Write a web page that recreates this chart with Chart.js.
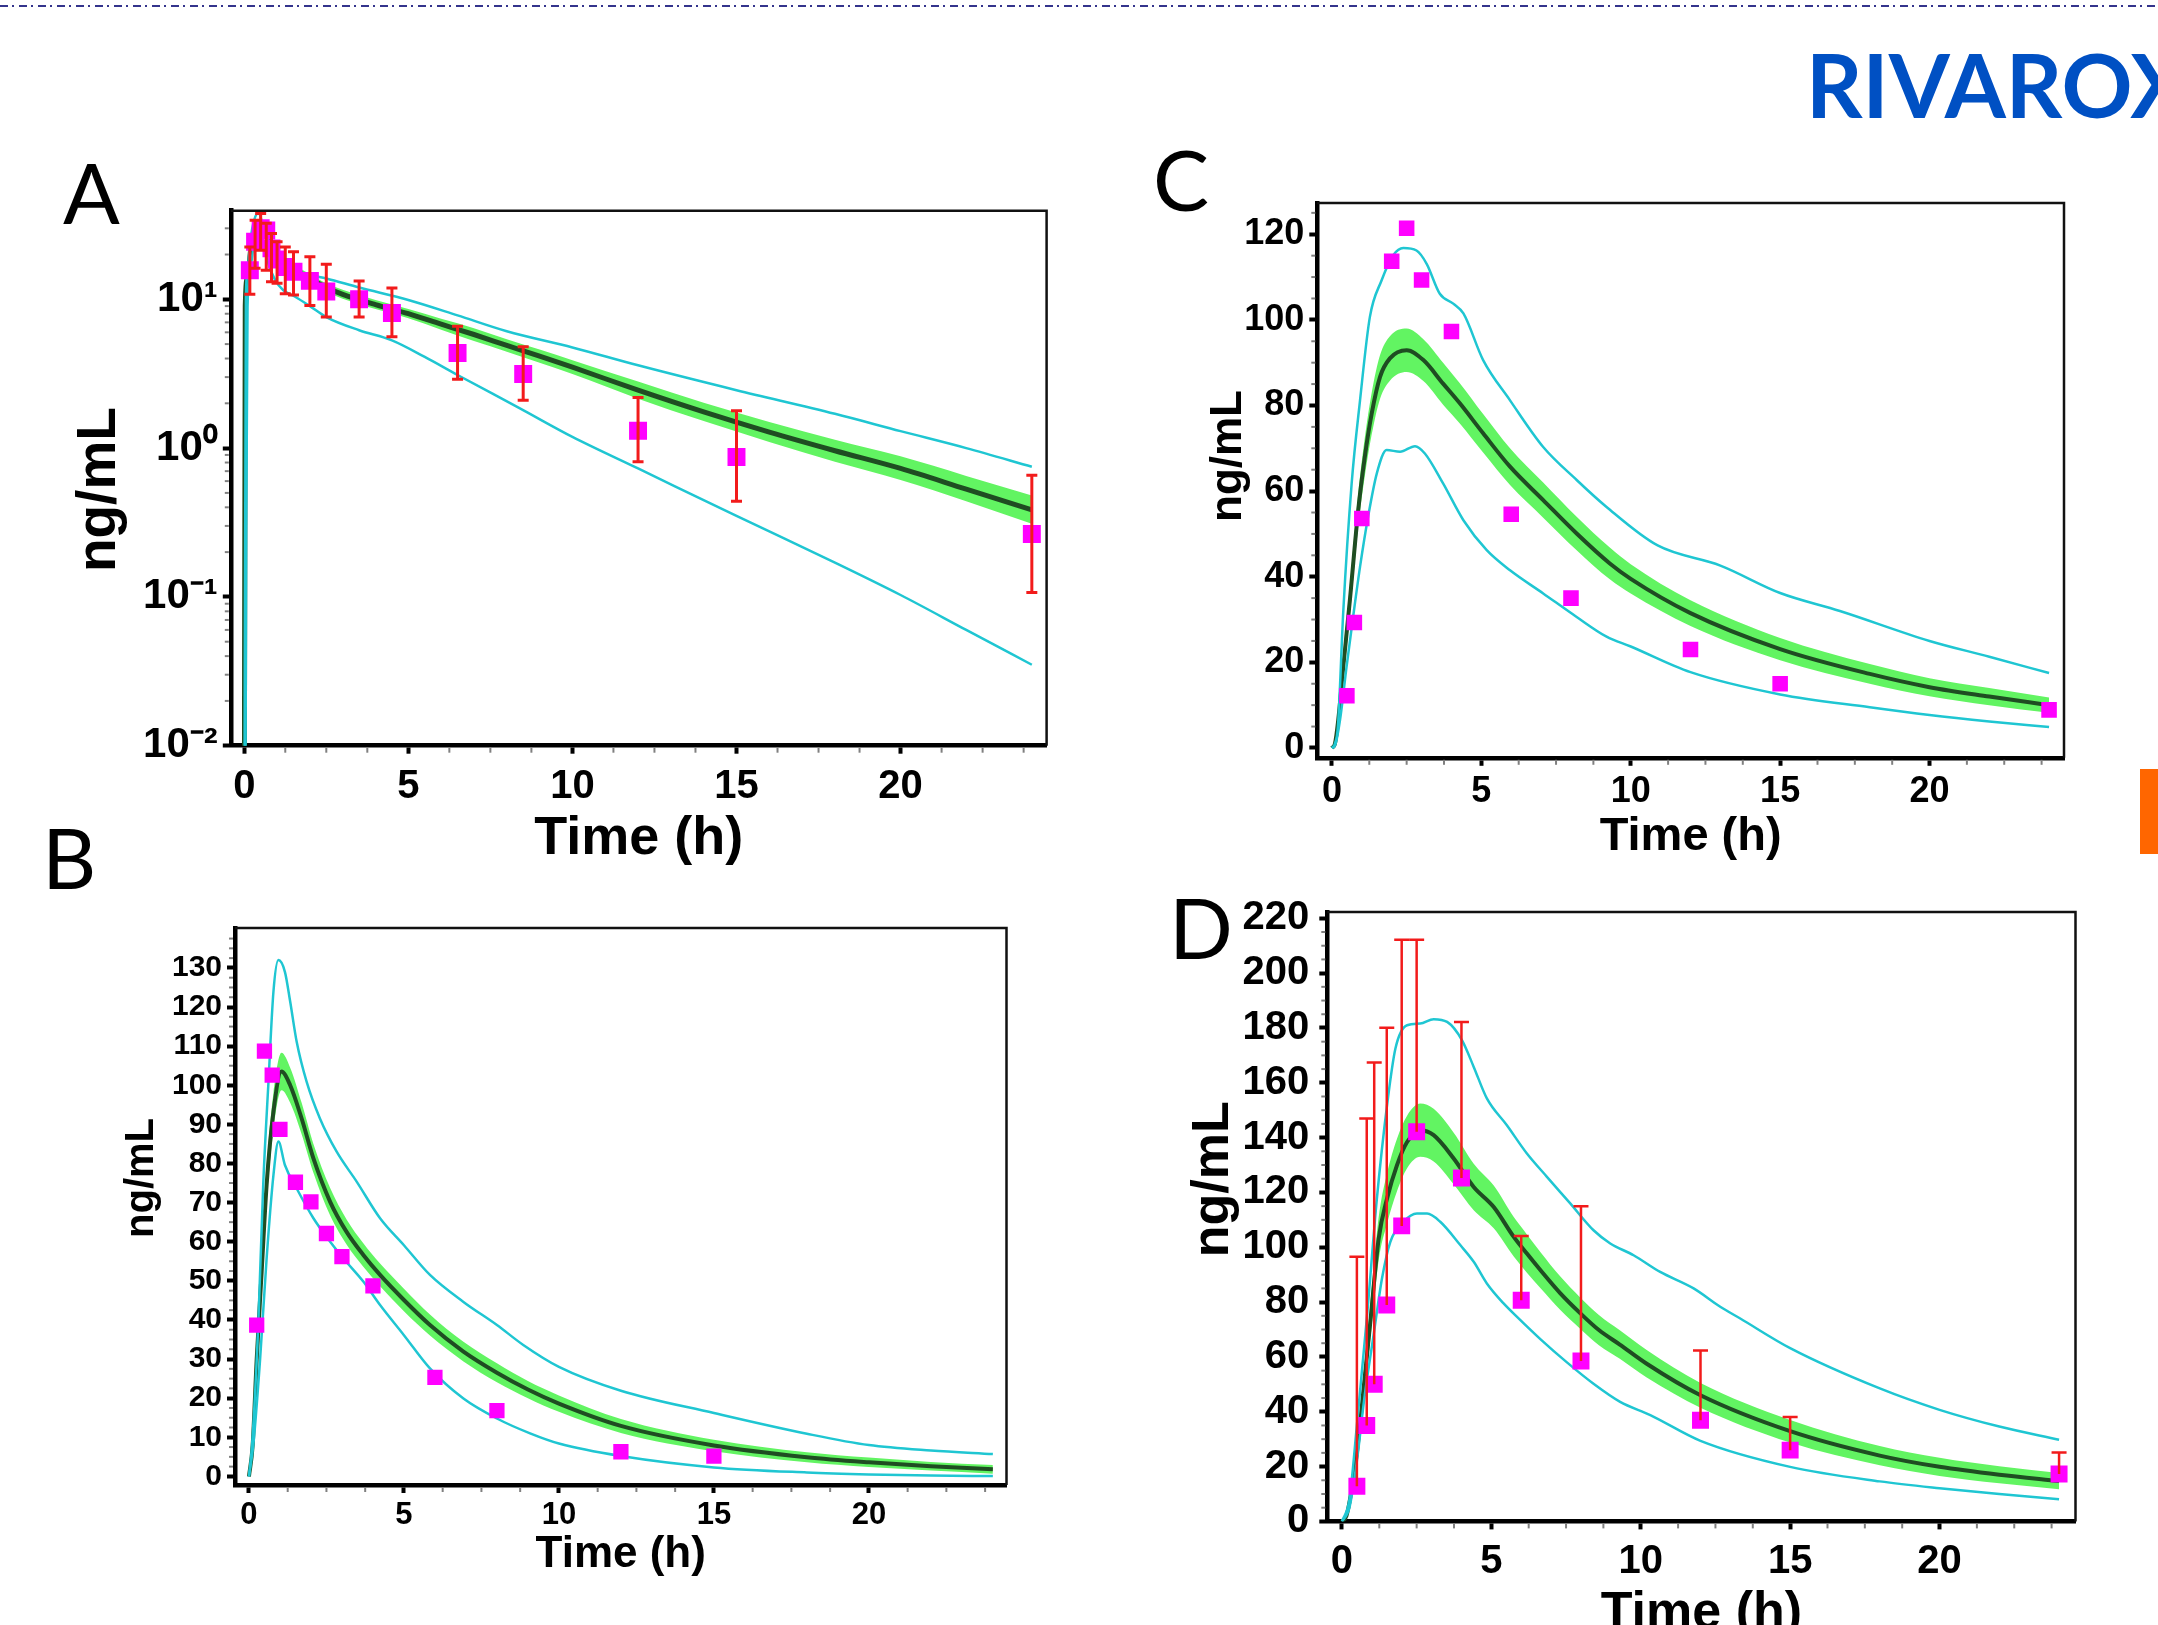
<!DOCTYPE html>
<html>
<head>
<meta charset="utf-8">
<title>Rivaroxaban concentration-time profiles</title>
<script src="https://cdn.jsdelivr.net/npm/chart.js@4.4.1/dist/chart.umd.min.js"></script>
<style>
  html, body { margin: 0; padding: 0; background: #fff; }
  body { position: relative; width: 2158px; height: 1625px; overflow: hidden; }
  #topline { position: absolute; left: 0; top: 5px; width: 2158px; height: 2px;
    background: repeating-linear-gradient(to right, #34348c 0 8px, transparent 8px 12px, #34348c 12px 14px, transparent 14px 19px); }
  #title { position: absolute; left: 1806px; top: 40px; font-family: Lato, 'Open Sans', sans-serif; font-weight: bold;
    font-size: 88px; line-height: 1; color: #0050c3; white-space: nowrap; }
  #orange { position: absolute; left: 2140px; top: 769px; width: 18px; height: 85px; background: #ff6600; }
  .letter { position: absolute; font-family: Lato, 'Open Sans', sans-serif; font-size: 84px; line-height: 1; color: #000; }
  canvas { position: absolute; }
</style>
</head>
<body>
<div id="topline"></div>
<div id="title">RIVAROXABAN</div>
<div id="orange"></div>
<div class="letter" style="left:63px; top:150px">A</div>
<div class="letter" style="left:42px; top:815px">B</div>
<div class="letter" style="left:1153px; top:137px">C</div>
<div class="letter" style="left:1169px; top:885px">D</div>
<canvas id="chartA" width="1010" height="702" style="left:60px; top:170px"></canvas>
<canvas id="chartB" width="920" height="693" style="left:100px; top:888px"></canvas>
<canvas id="chartC" width="900" height="702" style="left:1180px; top:163px"></canvas>
<canvas id="chartD" width="920" height="773" style="left:1170px; top:872px"></canvas>
<script>
const FONT = "'Liberation Sans', Arial, sans-serif";
const MAGENTA = '#ff00ff';
const CYAN = '#1fc6d2';
const DARK = '#1f4d22';
const GREEN = '#62f462';
const RED = '#f21b1b';

// axis ticks
const xMajorTicks = [0, 5, 10, 15, 20];
const xMinorTicks = [1.25, 2.5, 3.75, 6.25, 7.5, 8.75, 11.25, 12.5, 13.75, 16.25, 17.5, 18.75, 21.25, 22.5, 23.75];
const yTicksA = [0.01, 0.1, 1, 10];
const yTickLabelsA = ['10\u207B\u00B2', '10\u207B\u00B9', '10\u2070', '10\u00B9'];
const yMinorA = [0.02, 0.03, 0.04, 0.05, 0.06, 0.07, 0.08, 0.09, 0.2, 0.3, 0.4, 0.5, 0.6, 0.7, 0.8, 0.9,
  2, 3, 4, 5, 6, 7, 8, 9, 20, 30];
const yTicksB = [0, 10, 20, 30, 40, 50, 60, 70, 80, 90, 100, 110, 120, 130];
const yTicksC = [0, 20, 40, 60, 80, 100, 120];
const yTicksD = [0, 20, 40, 60, 80, 100, 120, 140, 160, 180, 200, 220];

// ---- Panel A (log scale) ----
const obsTimeA = [0.17, 0.33, 0.5, 0.67, 0.83, 1, 1.25, 1.5, 2, 2.5, 3.5, 4.5, 6.5, 8.5, 12, 15, 24];
const obsConcA = [15.7, 24.4, 30, 29, 22, 18.5, 16.5, 15.3, 13.3, 11.3, 10.0, 8.1, 4.35, 3.15, 1.31, 0.87, 0.265];
const errLowA = [10.8, 16.2, 21.4, 15.7, 13.1, 12.8, 10.9, 10.7, 9.1, 7.6, 7.6, 5.6, 2.9, 2.1, 0.81, 0.44, 0.107];
const errHighA = [22.5, 34, 37.8, 32.5, 27.7, 24.4, 22.5, 20.9, 19.3, 17.2, 13.3, 11.9, 6.6, 4.8, 2.19, 1.78, 0.656];
const simTimeA = [0, 0.03, 0.1, 0.2, 0.3, 0.4, 0.5, 0.6, 0.75, 1, 1.25, 1.5, 2, 2.5, 3, 4, 5, 6, 7, 8, 9, 10, 12, 14, 16, 18, 20, 22, 24];
const medianA = [0.001, 9, 14, 22, 28, 31, 32, 30, 25.5, 20, 17.5, 16, 13.8, 12.0, 10.8, 9.2, 8.0, 6.8, 5.8, 4.9, 4.15, 3.5, 2.45, 1.75, 1.28, 0.96, 0.73, 0.53, 0.385];
const bandHighA = [0.001, 9.6, 15, 23.5, 30, 33, 34, 32, 27.3, 21.4, 18.7, 17.1, 14.8, 12.8, 11.6, 9.9, 8.6, 7.4, 6.4, 5.4, 4.6, 3.9, 2.8, 2.02, 1.5, 1.14, 0.88, 0.65, 0.48];
const bandLowA = [0.001, 8.4, 13, 20.5, 26, 29, 30, 28, 23.8, 18.7, 16.3, 15, 12.9, 11.2, 10.1, 8.6, 7.45, 6.25, 5.25, 4.45, 3.75, 3.15, 2.15, 1.52, 1.1, 0.81, 0.61, 0.44, 0.31];
const p95TimeA = [0, 0.05, 0.1, 0.2, 0.3, 0.43, 0.6, 0.84, 1.1, 1.45, 2, 2.5, 3.5, 5, 6.5, 8, 10, 12, 15, 18, 20, 22, 24];
const p95A = [0.001, 10, 16, 26, 34, 38, 30, 21.4, 18.5, 16.1, 14.6, 13.8, 12.0, 9.9, 7.8, 6.1, 4.75, 3.6, 2.45, 1.7, 1.3, 1.0, 0.75];
const p5TimeA = [0.03, 0.06, 0.1, 0.2, 0.3, 0.45, 0.6, 0.75, 0.94, 1.19, 1.55, 2, 2.5, 3.5, 4.5, 5.5, 6.5, 8.4, 10, 12, 15, 18, 20, 22, 24];
const p5A = [0.001, 0.28, 8.9, 17, 24, 27, 22, 17, 13.5, 11.5, 10.4, 9.0, 7.6, 6.2, 5.3, 4.1, 3.1, 1.85, 1.19, 0.73, 0.35, 0.17, 0.103, 0.06, 0.035];

// ---- Panel B ----
const obsTimeB = [0.25, 0.5, 0.75, 1, 1.5, 2, 2.5, 3, 4, 6, 8, 12, 15];
const obsConcB = [38.7, 108.7, 102.6, 88.7, 75.2, 70.2, 62.1, 56.2, 48.7, 25.3, 16.8, 6.3, 5.2];
const simTimeB = [0, 0.12, 0.25, 0.41, 0.57, 0.79, 1.05, 1.33, 1.7, 2.08, 2.62, 3.15, 3.69, 4.23, 5, 5.84, 6.92, 8, 9, 10, 12, 15, 18, 20, 22, 24];
const medianB = [0, 8, 30, 52.3, 74.5, 93.2, 103.5, 100, 91.5, 81.3, 70.2, 62.5, 56.6, 51.5, 45.1, 38.7, 31.9, 26.5, 22.2, 18.6, 12.9, 7.9, 4.9, 3.6, 2.6, 1.8];
const bandHighB = [0, 9.5, 33, 56, 79, 98, 108.3, 104.5, 95.5, 85, 73.7, 65.7, 59.6, 54.4, 48, 41.4, 34.4, 28.9, 24.4, 20.7, 14.7, 9.4, 6.2, 4.8, 3.7, 2.9];
const bandLowB = [0, 6.5, 27, 48.5, 70, 88.5, 98.7, 95.5, 87.5, 77.6, 66.7, 59.3, 53.6, 48.6, 42.2, 36, 29.4, 24.1, 20, 16.5, 11.1, 6.4, 3.6, 2.4, 1.5, 0.7];
const p95TimeB = [0, 0.1, 0.3, 0.46, 0.63, 0.79, 0.95, 1.16, 1.33, 1.54, 1.86, 2.29, 2.83, 3.48, 4.23, 5, 5.84, 6.92, 8, 8.85, 10, 12, 15, 18, 20, 22, 24];
const p95B = [0, 8, 38.7, 74.5, 100.9, 123.9, 132, 129, 121.4, 111.1, 100.9, 91.5, 83, 75.3, 66, 59.1, 51.5, 44.6, 38.7, 33.6, 28, 21.9, 16.2, 10.9, 8, 6.6, 5.7];
const p5TimeB = [0, 0.14, 0.36, 0.57, 0.79, 0.95, 1.16, 1.54, 2.08, 2.62, 3.05, 3.69, 4.23, 5, 5.84, 6.92, 8, 9.07, 10, 12, 15, 18, 20, 22, 24];
const p5B = [0, 8, 30, 55.7, 77, 85.6, 79.6, 73.6, 66, 60, 55.7, 49.8, 43.8, 36.1, 27.6, 19.9, 14.8, 11, 8.4, 5.2, 2.3, 1.0, 0.5, 0.2, 0.1];

// ---- Panel C ----
const obsTimeC = [0.5, 0.75, 1, 2, 2.5, 3, 4, 6, 8, 12, 15, 24];
const obsConcC = [12.2, 29.3, 53.6, 113.7, 121.4, 109.3, 97.3, 54.6, 35, 23, 15, 8.9];
const simTimeC = [0, 0.1, 0.21, 0.38, 0.6, 0.88, 1.1, 1.33, 1.61, 1.94, 2.5, 3.06, 3.72, 4.28, 5.06, 5.96, 7.07, 8.19, 9.3, 10, 12, 15, 18, 20, 22, 24];
const medianC = [0, 1, 6.5, 19, 34.5, 55.6, 68, 78.1, 86.7, 91, 92.9, 90.6, 85.1, 80.5, 73.5, 65.7, 57.9, 50.1, 43.1, 39.5, 31.5, 23.1, 17.3, 14.2, 12, 10];
const bandHighC = [0, 1.5, 8, 22, 38, 59.5, 72.5, 83, 91.8, 96.2, 98, 95.5, 90, 85.2, 78, 70, 62, 54, 46.8, 42.9, 34.5, 25.7, 19.6, 16.3, 14, 11.8];
const bandLowC = [0, 0.5, 5, 16, 31, 51.7, 63.5, 73.2, 81.6, 85.8, 87.8, 85.7, 80.2, 75.8, 69, 61.4, 53.8, 46.2, 39.4, 36.1, 28.5, 20.5, 15, 12.1, 10, 8.2];
const p95TimeC = [0, 0.1, 0.2, 0.38, 0.66, 0.94, 1.27, 1.66, 2.05, 2.39, 2.83, 3.17, 3.61, 4.06, 4.4, 5.06, 5.96, 7.07, 8.19, 9.19, 10.9, 13, 15, 17, 20, 22, 24];
const p95C = [0, 1, 5, 32, 61.8, 81.2, 100.7, 109.2, 115.1, 116.8, 116.2, 113.1, 106.1, 103.8, 101.5, 90.6, 81.2, 70.3, 62.6, 56.3, 47.3, 42.6, 36.2, 32, 25, 21.3, 17.5];
const p5TimeC = [0, 0.1, 0.27, 0.49, 0.71, 0.94, 1.21, 1.5, 1.83, 2.28, 2.78, 3.11, 3.72, 4.4, 5.18, 5.96, 7.07, 8.19, 9.19, 10, 12, 15, 18, 20, 22, 24];
const p5C = [0, 0.5, 6.5, 19, 30.7, 42.3, 54, 64.1, 69.6, 69.2, 70.5, 68.8, 61.8, 53.2, 46.2, 41.5, 36.1, 30.6, 26, 23.7, 17.7, 12.5, 9.5, 7.7, 6.2, 4.9];

// ---- Panel D ----
const obsTimeD = [0.5, 0.83, 1.08, 1.5, 2, 2.5, 4, 6, 8, 12, 15, 24];
const obsConcD = [12.8, 35, 50, 78.9, 107.8, 142.1, 125.3, 80.7, 58.5, 36.9, 26, 17.3];
const errHighD = [96.5, 147, 167.4, 180.1, 212.2, 212.2, 182.2, 104.1, 115, 62.3, 38.1, 25.1];
const simTimeD = [0, 0.15, 0.3, 0.5, 0.67, 0.95, 1.23, 1.51, 1.84, 2.18, 2.62, 3.07, 3.74, 4.41, 5.08, 5.75, 6.19, 6.64, 7.31, 7.98, 8.6, 9.3, 10.2, 12, 15, 18, 20, 22, 24];
const medianD = [0, 2, 10, 25, 42.4, 72.8, 103.2, 117.8, 129.9, 138.4, 142.7, 140.9, 132.4, 122, 114.7, 103.8, 97.7, 91.7, 83.2, 75.9, 69.8, 64.5, 57.5, 46, 32.9, 24, 19.9, 17, 14.7];
const bandHighD = [0, 3, 13, 30, 48, 79, 111, 127, 139.5, 148, 152.4, 150.5, 141.8, 130.5, 122.5, 111, 104.7, 98.3, 89.3, 81.6, 75.3, 69.7, 62.5, 50.5, 37, 27.5, 23.2, 20.1, 17.7];
const bandLowD = [0, 1, 7, 20, 37, 66.5, 95.4, 108.6, 120.3, 128.8, 133, 131.3, 123, 113.5, 106.9, 96.6, 90.7, 85.1, 77.1, 70.2, 64.3, 59.3, 52.5, 41.5, 28.8, 20.5, 16.6, 13.9, 11.7];
const p95TimeD = [0, 0.25, 0.5, 0.84, 1.17, 1.51, 1.79, 2.18, 2.62, 3.07, 3.52, 4.02, 4.41, 4.85, 5.52, 6.19, 6.86, 7.64, 8.42, 8.98, 9.76, 10.65, 11.77, 12.66, 13.33, 15, 18, 20, 22, 24];
const p95D = [0, 8, 35, 75, 117.8, 151.8, 172.5, 181, 181.6, 183.2, 182.2, 175.5, 165.8, 154.3, 144.5, 134.2, 125.7, 116, 106.2, 101.4, 97.1, 91, 85, 78.3, 74, 63.2, 48.5, 40.7, 34.6, 29.8];
const p5TimeD = [0, 0.25, 0.5, 0.75, 1.06, 1.34, 1.62, 2.06, 2.51, 2.85, 3.29, 3.96, 4.41, 4.85, 5.41, 5.86, 6.64, 7.53, 8.42, 9.31, 10.32, 12, 15, 18, 20, 22, 24];
const p5D = [0, 5, 22, 45, 68, 88.6, 102, 109.3, 112.3, 112.3, 109.3, 100.8, 94.7, 86.8, 79.5, 74.6, 66.5, 58, 50.2, 43.6, 38.8, 29.4, 19.9, 14.6, 12.1, 10, 8.1];

// frame, minor ticks, y title and error bars
const panelDecor = {
  id: 'panelDecor',
  afterDatasetsDraw(chart, args, o) {
    const e = o.errors;
    if (!e) return;
    const { ctx, chartArea: a, scales: { x, y } } = chart;
    ctx.save();
    ctx.beginPath();
    ctx.rect(a.left, a.top, a.right - a.left, a.bottom - a.top);
    ctx.clip();
    ctx.strokeStyle = RED;
    ctx.lineWidth = e.lineWidth;
    e.t.forEach((t, i) => {
      const px = x.getPixelForValue(t);
      const top = y.getPixelForValue(e.hi[i]);
      const bot = y.getPixelForValue(e.lo[i]);
      ctx.beginPath();
      ctx.moveTo(px, bot);
      ctx.lineTo(px, top);
      ctx.moveTo(px - e.cap / 2, top);
      ctx.lineTo(px + e.cap / 2, top);
      if (e.capLow) {
        ctx.moveTo(px - e.cap / 2, bot);
        ctx.lineTo(px + e.cap / 2, bot);
      }
      ctx.stroke();
    });
    ctx.restore();
  },
  afterDraw(chart, args, o) {
    const { ctx, chartArea: a, scales: { x, y } } = chart;
    ctx.save();
    // top and right side of the frame
    ctx.strokeStyle = '#111';
    ctx.lineWidth = 2.5;
    ctx.beginPath();
    ctx.moveTo(a.left, a.top);
    ctx.lineTo(a.right, a.top);
    ctx.lineTo(a.right, a.bottom);
    ctx.stroke();
    // minor ticks
    ctx.strokeStyle = '#808080';
    ctx.lineWidth = 2;
    (o.minorX || []).forEach(v => {
      const px = x.getPixelForValue(v);
      ctx.beginPath();
      ctx.moveTo(px, a.bottom + 2);
      ctx.lineTo(px, a.bottom + 7);
      ctx.stroke();
    });
    let minorY = o.minorY || [];
    if (o.minorYStep) {
      minorY = [];
      for (let v = o.minorYStep; v < y.max; v += o.minorYStep) {
        if (Math.abs(v / o.yMajorStep - Math.round(v / o.yMajorStep)) > 1e-6) minorY.push(v);
      }
    }
    minorY.forEach(v => {
      const py = y.getPixelForValue(v);
      if (py < a.top || py > a.bottom) return;
      ctx.beginPath();
      ctx.moveTo(a.left - 2, py);
      ctx.lineTo(a.left - 6, py);
      ctx.stroke();
    });
    // rotated y-axis title
    const t = o.yTitle;
    ctx.translate(a.left + t.dx, (a.top + a.bottom) / 2 + t.dy);
    ctx.rotate(-Math.PI / 2);
    ctx.fillStyle = '#000';
    ctx.font = 'bold ' + t.size + 'px ' + FONT;
    ctx.textAlign = 'center';
    ctx.textBaseline = 'middle';
    ctx.fillText(t.text, 0, 0);
    ctx.restore();
  }
};
Chart.register(panelDecor);

function buildPanel(id, p) {
  const pts = (t, v) => t.map((x, i) => ({ x: x, y: v[i] }));
  const curve = { pointRadius: 0, pointHoverRadius: 0, fill: false, cubicInterpolationMode: 'monotone' };
  const tickFont = size => ({ family: FONT, size: size, weight: 'bold' });
  const grid = { drawOnChartArea: false, tickLength: 8, tickWidth: 4, tickColor: '#000' };
  const border = { color: '#000', width: 4.5 };
  return new Chart(document.getElementById(id), {
    type: 'line',
    data: {
      datasets: [
        { label: 'Observed', data: pts(p.obsT, p.obsV), showLine: false, pointStyle: 'rect',
          pointRadius: p.pointR, pointHoverRadius: p.pointR, backgroundColor: MAGENTA,
          borderColor: MAGENTA, borderWidth: 0, order: 0 },
        Object.assign({ label: '95th percentile', data: pts(p.p95T, p.p95V), borderColor: CYAN, borderWidth: 2.5, order: 1 }, curve),
        Object.assign({ label: '5th percentile', data: pts(p.p5T, p.p5V), borderColor: CYAN, borderWidth: 2.5, order: 1 }, curve),
        Object.assign({ label: 'Median', data: pts(p.simT, p.med), borderColor: DARK, borderWidth: p.medW, order: 2 }, curve),
        Object.assign({}, curve, { label: 'Median CI upper', data: pts(p.simT, p.bandHi), borderColor: 'rgba(0,0,0,0)',
          borderWidth: 0, backgroundColor: GREEN, fill: '+1', order: 3 }),
        Object.assign({ label: 'Median CI lower', data: pts(p.simT, p.bandLo), borderColor: 'rgba(0,0,0,0)', borderWidth: 0, order: 3 }, curve)
      ]
    },
    options: {
      responsive: false,
      animation: false,
      devicePixelRatio: 1,
      events: [],
      layout: { padding: { top: p.padTop, right: p.padRight, left: 0, bottom: 0 } },
      plugins: {
        legend: { display: false },
        tooltip: { enabled: false },
        panelDecor: { errors: p.errors, minorX: xMinorTicks, minorY: p.minorY, minorYStep: p.minorYStep,
          yMajorStep: p.yMajorStep, yTitle: p.yTitle }
      },
      scales: {
        x: {
          type: 'linear', min: p.xMin, max: p.xMax,
          afterBuildTicks: s => { s.ticks = xMajorTicks.map(v => ({ value: v })); },
          afterFit: s => { s.height = p.xH; },
          ticks: { autoSkip: false, maxRotation: 0, padding: p.xTickPad, color: '#000',
            font: tickFont(p.xTickSize), callback: v => String(v) },
          grid: grid,
          border: border,
          title: { display: true, text: 'Time (h)', color: '#000', padding: 0, font: tickFont(p.xTitleSize) }
        },
        y: {
          type: p.yType, min: p.yMin, max: p.yMax,
          afterBuildTicks: s => { s.ticks = p.yTicks.map(v => ({ value: v })); },
          afterFit: s => { s.width = p.yW; },
          ticks: { autoSkip: false, padding: p.yTickPad, color: '#000', font: tickFont(p.yTickSize),
            callback: (v, i) => (p.yLabels ? p.yLabels[i] : String(v)) },
          grid: grid,
          border: border
        }
      }
    }
  });
}

buildPanel('chartA', {
  yType: 'logarithmic', xMin: -0.41, xMax: 24.45, yMin: 0.01, yMax: 39.4,
  yTicks: yTicksA, yLabels: yTickLabelsA, minorY: yMinorA,
  yW: 170.8, xH: 126.3, padTop: 40.7, padRight: 23.4,
  xTickSize: 40, yTickSize: 42, xTitleSize: 54, xTickPad: 9, yTickPad: 5,
  pointR: 12.7, medW: 5,
  obsT: obsTimeA, obsV: obsConcA, simT: simTimeA, med: medianA, bandHi: bandHighA, bandLo: bandLowA,
  p95T: p95TimeA, p95V: p95A, p5T: p5TimeA, p5V: p5A,
  errors: { t: obsTimeA, lo: errLowA, hi: errHighA, capLow: true, cap: 11, lineWidth: 3 },
  yTitle: { text: 'ng/mL', size: 55, dx: -130.6, dy: 11.4 }
});

buildPanel('chartB', {
  yType: 'linear', xMin: -0.45, xMax: 24.44, yMin: -2.2, yMax: 140.2,
  yTicks: yTicksB, minorYStep: 2.5, yMajorStep: 10,
  yW: 135, xH: 96, padTop: 40, padRight: 13.5,
  xTickSize: 31, yTickSize: 30, xTitleSize: 44, xTickPad: 4, yTickPad: 5,
  pointR: 10.8, medW: 4,
  obsT: obsTimeB, obsV: obsConcB, simT: simTimeB, med: medianB, bandHi: bandHighB, bandLo: bandLowB,
  p95T: p95TimeB, p95V: p95B, p5T: p5TimeB, p5V: p5B,
  yTitle: { text: 'ng/mL', size: 40, dx: -93, dy: -28.5 }
});

buildPanel('chartC', {
  yType: 'linear', xMin: -0.49, xMax: 24.5, yMin: -2.3, yMax: 127.3,
  yTicks: yTicksC, minorYStep: 5, yMajorStep: 20,
  yW: 137.3, xH: 107.2, padTop: 40, padRight: 16,
  xTickSize: 36, yTickSize: 36, xTitleSize: 47, xTickPad: 5, yTickPad: 5,
  pointR: 11, medW: 4,
  obsT: obsTimeC, obsV: obsConcC, simT: simTimeC, med: medianC, bandHi: bandHighC, bandLo: bandLowC,
  p95T: p95TimeC, p95V: p95C, p5T: p5TimeC, p5V: p5C,
  yTitle: { text: 'ng/mL', size: 44, dx: -88.6, dy: -24.4 }
});

buildPanel('chartD', {
  yType: 'linear', xMin: -0.49, xMax: 24.55, yMin: 0, yMax: 222.3,
  yTicks: yTicksD, minorYStep: 5, yMajorStep: 20,
  yW: 157.3, xH: 123.6, padTop: 40, padRight: 14.5,
  xTickSize: 40, yTickSize: 40, xTitleSize: 52, xTickPad: 9, yTickPad: 10,
  pointR: 12, medW: 4,
  obsT: obsTimeD, obsV: obsConcD, simT: simTimeD, med: medianD, bandHi: bandHighD, bandLo: bandLowD,
  p95T: p95TimeD, p95V: p95D, p5T: p5TimeD, p5V: p5D,
  errors: { t: obsTimeD, lo: obsConcD, hi: errHighD, capLow: false, cap: 15, lineWidth: 2.5 },
  yTitle: { text: 'ng/mL', size: 52, dx: -113.3, dy: -37.5 }
});
</script>
</body>
</html>
